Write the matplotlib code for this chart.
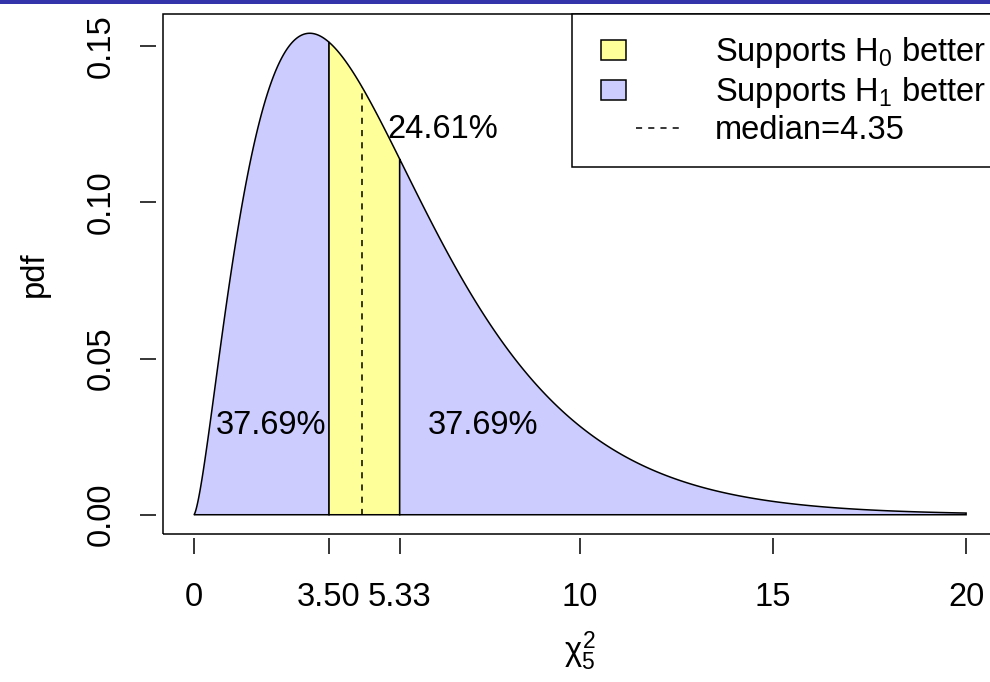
import math
import numpy as np
import matplotlib
matplotlib.use("Agg")
import matplotlib.pyplot as plt
from matplotlib.patches import Rectangle
from matplotlib.lines import Line2D
from matplotlib.legend_handler import HandlerBase

plt.rcParams['font.family'] = ['Liberation Sans', 'DejaVu Sans']
plt.rcParams['mathtext.fontset'] = 'custom'
plt.rcParams['mathtext.rm'] = 'Liberation Sans'
plt.rcParams['mathtext.it'] = 'Liberation Sans'
plt.rcParams['mathtext.sf'] = 'Liberation Sans'

# data
df = 5
x_range = [0, 20]
bounds = [3.50, 5.33]
median = 4.35
area_pct = ["37.69%", "24.61%", "37.69%"]
x_ticks = [0, 3.50, 5.33, 10, 15, 20]
x_tick_labels = ["0", "3.50", "5.33", "10", "15", "20"]
y_ticks = [0.00, 0.05, 0.10, 0.15]
y_tick_labels = ["0.00", "0.05", "0.10", "0.15"]

blue = '#CCCCFF'
yellow = '#FFFF99'


def chisq_pdf(x, k):
    x = np.asarray(x, dtype=float)
    return x ** (k / 2 - 1) * np.exp(-x / 2) / (2 ** (k / 2) * math.gamma(k / 2))


def region(a, b):
    xs = np.linspace(a, b, 400)
    px = np.concatenate([[a], xs, [b]])
    py = np.concatenate([[0], chisq_pdf(xs, df), [0]])
    return px, py


fig = plt.figure(figsize=(9.9, 6.82), dpi=100)
ax = fig.add_axes([163 / 990, (682 - 534) / 682, (997 - 163) / 990, (534 - 14) / 682])

lw = 1.1
edges = [x_range[0], bounds[0], bounds[1], x_range[1]]
fills = [blue, yellow, blue]
for i in range(3):
    px, py = region(edges[i], edges[i + 1])
    ax.fill(px, py, facecolor=fills[i], edgecolor='black', lw=lw)

ax.plot([median, median], [0, chisq_pdf(median, df)], color='black', ls=(0, (4, 4)), lw=lw)

ymax = chisq_pdf(df - 2, df)
ax.set_xlim(x_range[0] - 0.04 * (x_range[1] - x_range[0]), x_range[1] + 0.04 * (x_range[1] - x_range[0]))
ax.set_ylim(-0.04 * ymax, ymax * 1.04)

fs = 23.5
ax.text(2.0, 0.0287, area_pct[0], fontsize=fs, ha='center', va='center')
ax.text(6.45, 0.1235, area_pct[1], fontsize=fs, ha='center', va='center')
ax.text(7.5, 0.0287, area_pct[2], fontsize=fs, ha='center', va='center')

ax.set_xticks(x_ticks)
ax.set_xticklabels(x_tick_labels)
ax.set_yticks(y_ticks)
ax.set_yticklabels(y_tick_labels)
for s in ax.spines.values():
    s.set_visible(False)
ax.spines['bottom'].set_position(('outward', 3))
ax.spines['left'].set_position(('outward', 5))
ax.tick_params(axis='both', direction='out', length=11.5, width=1.1, labelsize=fs)
ax.tick_params(axis='x', pad=20)
ax.tick_params(axis='y', pad=17, labelrotation=90)
for t in ax.get_yticklabels():
    t.set_va('center')
ax.add_patch(Rectangle((0, 0), 1, 1, transform=ax.transAxes, fill=False,
                       edgecolor='black', lw=1.1, clip_on=False, zorder=5))

ax.set_xlabel(r'$\chi^2_5$', fontsize=fs, labelpad=12)
ax.set_ylabel('pdf', fontsize=fs, labelpad=26)


class LegendBox(HandlerBase):
    def create_artists(self, legend, orig_handle, xdescent, ydescent, width, height, fontsize, trans):
        x0, y0 = -xdescent, -ydescent
        if isinstance(orig_handle, Rectangle):
            w, h = 0.74 * fontsize, 0.62 * fontsize
            art = Rectangle((x0 + 0.25 * fontsize, y0 + height / 2 - h / 2), w, h,
                            facecolor=orig_handle.get_facecolor(), edgecolor='black', lw=1.1,
                            transform=trans)
        else:
            art = Line2D([x0 + 0.48 * width, x0 + width], [y0 + height / 2] * 2, color='black',
                         ls=(0, (4, 4)), lw=1.1, transform=trans)
        return [art]


handles = [Rectangle((0, 0), 1, 1, facecolor=yellow), Rectangle((0, 0), 1, 1, facecolor=blue),
           Line2D([], [])]
labels = [r'Supports H$_0$ better', r'Supports H$_1$ better', 'median=4.35']
leg = ax.legend(handles, labels, loc='upper right', bbox_to_anchor=(1 + 10 / 834, 1), borderaxespad=0,
                fontsize=fs, frameon=True, fancybox=False, edgecolor='black', framealpha=1,
                handlelength=2.72, handletextpad=1.0, borderpad=0.65, labelspacing=0.15,
                handler_map={Rectangle: LegendBox(), Line2D: LegendBox()})
leg.get_frame().set_linewidth(1.1)
leg.set_zorder(6)

fig.patches.append(Rectangle((0, 1 - 4 / 682), 1, 4 / 682, transform=fig.transFigure,
                             facecolor='#3333AA', edgecolor='none'))

fig.savefig('out.png', dpi=100)
